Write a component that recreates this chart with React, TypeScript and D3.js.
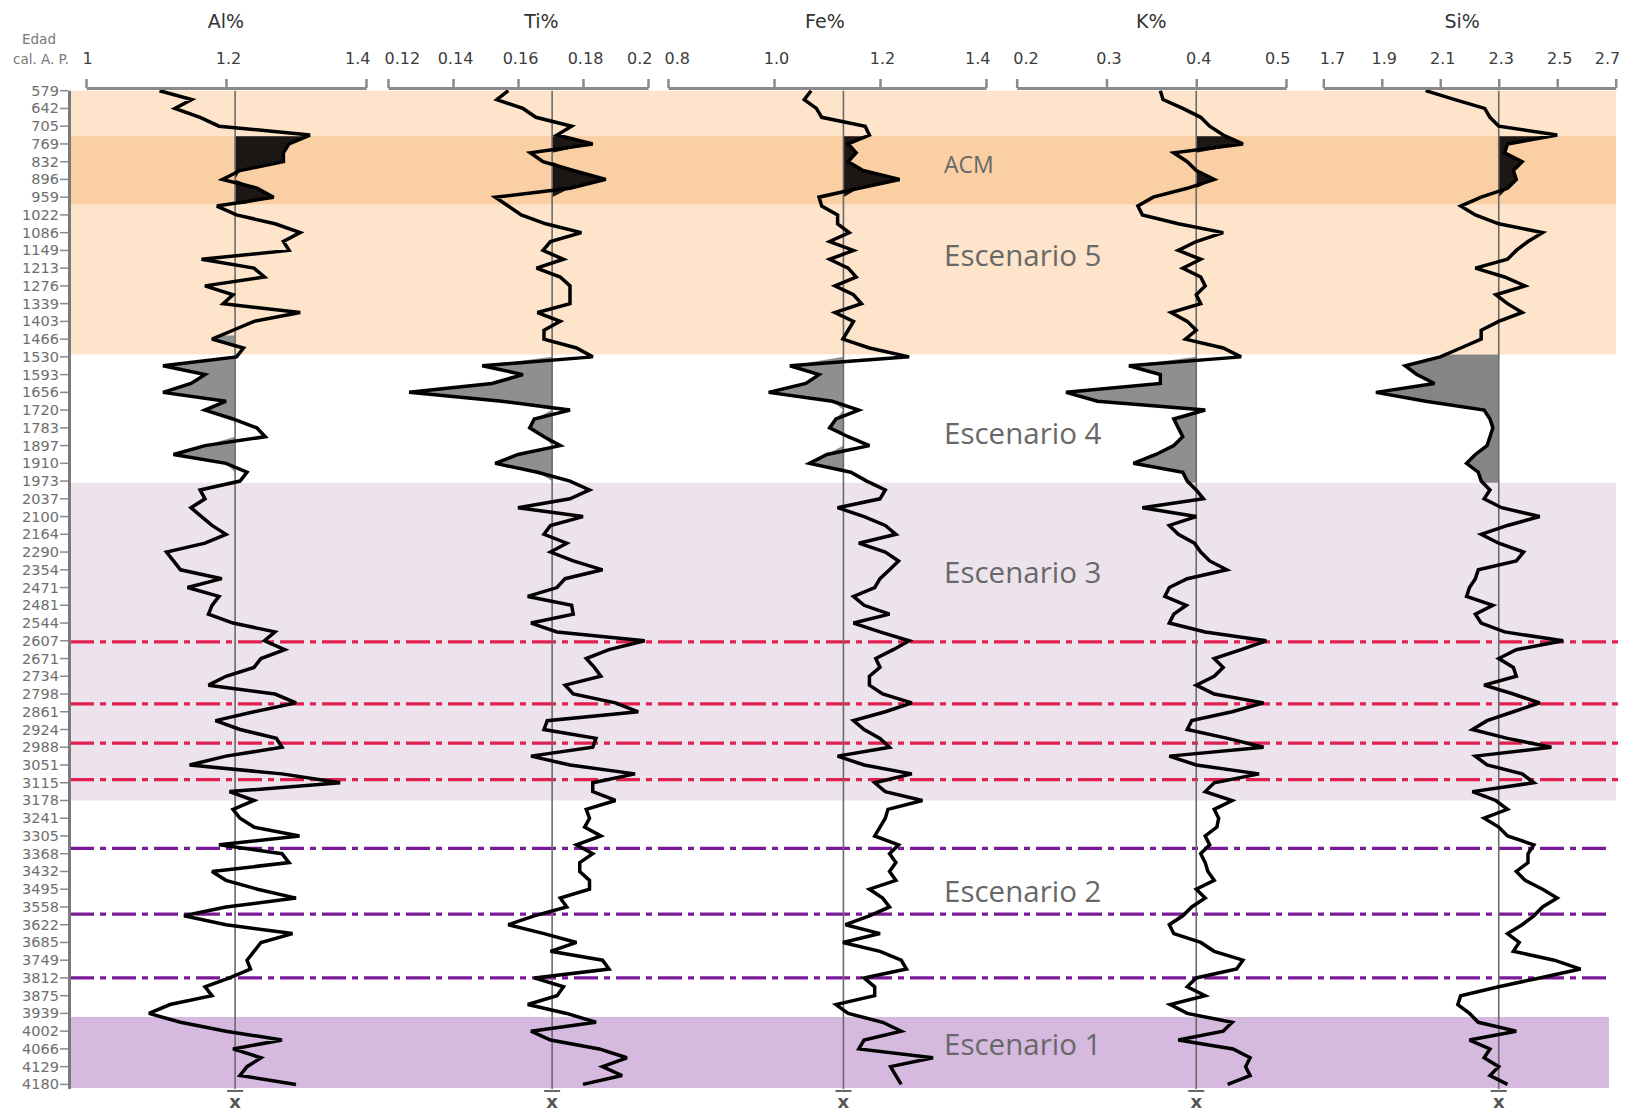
import React, { useRef, useEffect } from "react";
import * as d3 from "d3";

// age labels on the left axis (cal. A. P.), evenly spaced in the figure
const ageLabels = [
  579, 642, 705, 769, 832, 896, 959, 1022, 1086, 1149, 1213, 1276, 1339, 1403, 1466, 1530, 1593, 1656,
  1720, 1783, 1897, 1910, 1973, 2037, 2100, 2164, 2290, 2354, 2471, 2481, 2544, 2607, 2671, 2734, 2798,
  2861, 2924, 2988, 3051, 3115, 3178, 3241, 3305, 3368, 3432, 3495, 3558, 3622, 3685, 3749, 3812, 3875,
  3939, 4002, 4066, 4129, 4180,
];

// series are sampled every half label step down the core
const SAMPLE_STEP = 0.5;

const alValues = [
  1.105, 1.151, 1.127, 1.163, 1.19, 1.32, 1.29, 1.282, 1.282, 1.22, 1.195, 1.245, 1.268, 1.187, 1.215, 1.27,
  1.306, 1.282, 1.29, 1.165, 1.24, 1.255, 1.17, 1.21, 1.196, 1.306, 1.24, 1.21, 1.18, 1.225, 1.215, 1.11,
  1.17, 1.15, 1.11, 1.2, 1.17, 1.21, 1.244, 1.256, 1.17, 1.125, 1.2, 1.23, 1.22, 1.163, 1.17, 1.15, 1.165,
  1.18, 1.2, 1.17, 1.115, 1.125, 1.135, 1.194, 1.145, 1.19, 1.18, 1.175, 1.21, 1.27, 1.255, 1.284, 1.25,
  1.24, 1.2, 1.175, 1.27, 1.3, 1.24, 1.185, 1.22, 1.272, 1.28, 1.2, 1.148, 1.28, 1.363, 1.205, 1.24, 1.21,
  1.22, 1.24, 1.305, 1.19, 1.28, 1.29, 1.18, 1.2, 1.245, 1.3, 1.2, 1.14, 1.2, 1.295, 1.25, 1.24, 1.23,
  1.235, 1.205, 1.17, 1.18, 1.12, 1.09, 1.135, 1.2, 1.28, 1.21, 1.25, 1.23, 1.22, 1.3,
];

const tiValues = [
  0.157, 0.1535, 0.1615, 0.1655, 0.1765, 0.172, 0.183, 0.1638, 0.1677, 0.177, 0.187, 0.176, 0.153, 0.157,
  0.161, 0.1685, 0.1795, 0.17, 0.1677, 0.174, 0.1657, 0.173, 0.176, 0.176, 0.176, 0.166, 0.173, 0.168,
  0.168, 0.178, 0.183, 0.149, 0.1615, 0.152, 0.1265, 0.155, 0.176, 0.165, 0.1636, 0.168, 0.173, 0.16,
  0.153, 0.166, 0.176, 0.182, 0.176, 0.16, 0.18, 0.17, 0.168, 0.175, 0.17, 0.177, 0.186, 0.1745, 0.172,
  0.163, 0.1765, 0.177, 0.164, 0.172, 0.199, 0.188, 0.181, 0.1835, 0.1855, 0.1745, 0.177, 0.19, 0.197,
  0.169, 0.168, 0.184, 0.183, 0.164, 0.176, 0.196, 0.183, 0.183, 0.19, 0.181, 0.182, 0.1805, 0.1855, 0.178,
  0.183, 0.179, 0.179, 0.182, 0.182, 0.173, 0.175, 0.165, 0.157, 0.168, 0.178, 0.17, 0.186, 0.188, 0.165,
  0.174, 0.172, 0.163, 0.175, 0.184, 0.164, 0.17, 0.185, 0.1935, 0.186, 0.192, 0.18,
];

const feValues = [
  1.07, 1.057, 1.08, 1.09, 1.172, 1.18, 1.14, 1.155, 1.14, 1.168, 1.237, 1.16, 1.085, 1.09, 1.12, 1.12,
  1.142, 1.105, 1.15, 1.105, 1.14, 1.155, 1.115, 1.15, 1.165, 1.115, 1.15, 1.14, 1.13, 1.18, 1.255, 1.03,
  1.085, 1.06, 0.99, 1.11, 1.16, 1.117, 1.105, 1.14, 1.18, 1.1, 1.067, 1.145, 1.175, 1.21, 1.2, 1.12, 1.17,
  1.21, 1.23, 1.16, 1.21, 1.235, 1.218, 1.2, 1.19, 1.15, 1.17, 1.218, 1.15, 1.2, 1.255, 1.225, 1.192, 1.2,
  1.18, 1.18, 1.205, 1.26, 1.21, 1.15, 1.17, 1.2, 1.218, 1.12, 1.17, 1.26, 1.19, 1.21, 1.28, 1.215, 1.21,
  1.2, 1.19, 1.235, 1.218, 1.23, 1.218, 1.23, 1.18, 1.205, 1.218, 1.18, 1.135, 1.2, 1.13, 1.2, 1.24, 1.25,
  1.17, 1.19, 1.19, 1.117, 1.14, 1.205, 1.24, 1.17, 1.16, 1.3, 1.22, 1.23, 1.24,
];

const kValues = [
  0.36, 0.363, 0.385, 0.405, 0.415, 0.43, 0.452, 0.375, 0.39, 0.4, 0.42, 0.39, 0.352, 0.335, 0.34, 0.38,
  0.43, 0.4, 0.38, 0.405, 0.385, 0.405, 0.41, 0.4, 0.405, 0.372, 0.39, 0.4, 0.388, 0.43, 0.45, 0.325, 0.36,
  0.36, 0.255, 0.29, 0.41, 0.375, 0.38, 0.385, 0.375, 0.355, 0.33, 0.385, 0.39, 0.4, 0.408, 0.34, 0.4,
  0.37, 0.38, 0.398, 0.405, 0.415, 0.434, 0.39, 0.37, 0.365, 0.389, 0.375, 0.37, 0.41, 0.478, 0.45, 0.42,
  0.43, 0.42, 0.4, 0.42, 0.475, 0.44, 0.395, 0.39, 0.435, 0.475, 0.37, 0.4, 0.47, 0.42, 0.41, 0.44, 0.42,
  0.425, 0.423, 0.41, 0.415, 0.405, 0.41, 0.413, 0.42, 0.4, 0.41, 0.395, 0.385, 0.37, 0.375, 0.405, 0.42,
  0.452, 0.445, 0.4, 0.39, 0.41, 0.371, 0.39, 0.44, 0.43, 0.38, 0.441, 0.46, 0.455, 0.46, 0.435,
];

const siValues = [
  2.05, 2.15, 2.252, 2.27, 2.3, 2.5, 2.33, 2.32, 2.38, 2.35, 2.36, 2.33, 2.24, 2.17, 2.22, 2.3, 2.45, 2.4,
  2.36, 2.33, 2.22, 2.32, 2.39, 2.29, 2.33, 2.38, 2.3, 2.24, 2.24, 2.17, 2.1, 1.98, 2.02, 2.08, 1.88, 2.05,
  2.25, 2.27, 2.28, 2.27, 2.26, 2.22, 2.19, 2.23, 2.24, 2.27, 2.25, 2.31, 2.44, 2.33, 2.24, 2.3, 2.385,
  2.36, 2.23, 2.22, 2.2, 2.19, 2.28, 2.22, 2.24, 2.32, 2.52, 2.36, 2.3, 2.35, 2.36, 2.25, 2.35, 2.44, 2.35,
  2.26, 2.21, 2.33, 2.48, 2.22, 2.26, 2.38, 2.42, 2.21, 2.29, 2.33, 2.25, 2.3, 2.33, 2.42, 2.4, 2.4, 2.36,
  2.39, 2.45, 2.5, 2.45, 2.42, 2.38, 2.33, 2.37, 2.35, 2.49, 2.58, 2.44, 2.3, 2.17, 2.16, 2.2, 2.23, 2.36,
  2.2, 2.27, 2.25, 2.3, 2.27, 2.33,
];

const alTicks = [1, 1.2, 1.4];
const tiTicks = [0.12, 0.14, 0.16, 0.18, 0.2];
const feTicks = [0.8, 1.0, 1.2, 1.4];
const kTicks = [0.2, 0.3, 0.4, 0.5];
const siTicks = [1.7, 1.9, 2.1, 2.3, 2.5, 2.7];
const alTickLabels = ["1", "1.2", "1.4"];
const tiTickLabels = ["0.12", "0.14", "0.16", "0.18", "0.2"];
const feTickLabels = ["0.8", "1.0", "1.2", "1.4"];
const kTickLabels = ["0.2", "0.3", "0.4", "0.5"];
const siTickLabels = ["1.7", "1.9", "2.1", "2.3", "2.5", "2.7"];

// mean (x̄) of each element
const means = [1.213, 0.1705, 1.131, 0.4, 2.3];

// scenario zones, in label steps along the age axis
const bandFrom = [0, 2.56, 22.1, 52.2];
const bandTo = [14.86, 6.4, 40.0, 56.2];
const acmZone = [2.56, 6.4];
const esc4Zone = [14.86, 22.1];
const redCuts = [31.06, 34.55, 36.77, 38.82];
const purpleCuts = [42.7, 46.4, 50.0];
const scenarioNames = ["ACM", "Escenario 5", "Escenario 4", "Escenario 3", "Escenario 2", "Escenario 1"];
const scenarioAt = [4.19, 9.34, 19.34, 27.2, 45.13, 53.8];

const W = 1635;
const H = 1115;

const App = () => {
  const svgRef = useRef(null);

  useEffect(() => {
    const svg = d3.select(svgRef.current).attr("width", W).attr("height", H);
    svg.selectAll("*").remove();

    const y = d3.scaleLinear().domain([0, ageLabels.length - 1]).range([90.7, 1084.4]);
    const axisFont = "DejaVu Sans, sans-serif";

    const panels = [
      { title: "Al%", values: alValues, ticks: alTicks, labels: alTickLabels, range: [86, 366], titleAt: 1.2, grayFrom: 13.8 },
      { title: "Ti%", values: tiValues, ticks: tiTicks, labels: tiTickLabels, range: [388, 648], titleAt: 0.1672, grayFrom: esc4Zone[0] },
      { title: "Fe%", values: feValues, ticks: feTicks, labels: feTickLabels, range: [668, 986], titleAt: 1.096, grayFrom: esc4Zone[0] },
      { title: "K%", values: kValues, ticks: kTicks, labels: kTickLabels, range: [1016.7, 1286], titleAt: 0.35, grayFrom: esc4Zone[0] },
      { title: "Si%", values: siValues, ticks: siTicks, labels: siTickLabels, range: [1323.3, 1615.7], titleAt: 2.175, grayFrom: esc4Zone[0] },
    ];

    // fondos de escenarios
    const bandColors = ["#fde4ca", "#f9cfa3", "#ede3ed", "#d5b9df"];
    const bandRight = [1616, 1616, 1616, 1609];
    bandFrom.forEach((f, i) => {
      svg
        .append("rect")
        .attr("x", 71)
        .attr("y", y(f))
        .attr("width", bandRight[i] - 71)
        .attr("height", y(bandTo[i]) - y(f))
        .attr("fill", bandColors[i]);
    });

    // líneas de corte
    const cut = (t, color, x2) =>
      svg
        .append("line")
        .attr("x1", 70)
        .attr("x2", x2)
        .attr("y1", y(t))
        .attr("y2", y(t))
        .attr("stroke", color)
        .attr("stroke-width", 3.2)
        .attr("stroke-dasharray", "24 6 6 6");
    redCuts.forEach((t) => cut(t, "#e1204f", 1618));
    purpleCuts.forEach((t) => cut(t, "#7b1a98", 1608));

    // etiquetas de escenarios
    scenarioNames.forEach((name, i) => {
      const isAcm = name === "ACM";
      svg
        .append("text")
        .attr("x", 944)
        .attr("y", y(scenarioAt[i]) + (isAcm ? 8 : 10))
        .attr("font-family", "Open Sans, sans-serif")
        .attr("font-size", isAcm ? 23 : 29.5)
        .attr("fill", "#686868")
        .text(name);
    });

    const defs = svg.append("defs");

    panels.forEach((p, pi) => {
      const x = d3.scaleLinear().domain([p.ticks[0], p.ticks[p.ticks.length - 1]]).range(p.range);
      const mean = means[pi];
      const g = svg.append("g");

      // clip zones for the fills
      const clip = (id, from, to) => {
        defs
          .append("clipPath")
          .attr("id", id)
          .append("rect")
          .attr("x", 0)
          .attr("width", W)
          .attr("y", y(from))
          .attr("height", y(to) - y(from));
        return `url(#${id})`;
      };

      const area = d3
        .area()
        .y((d, i) => y(i * SAMPLE_STEP))
        .x0(x(mean));

      g.append("path")
        .datum(p.values)
        .attr("clip-path", clip(`acm-${pi}`, acmZone[0], acmZone[1]))
        .attr("fill", "#1c1614")
        .attr("d", area.x1((d) => x(Math.max(d, mean))));

      g.append("path")
        .datum(p.values)
        .attr("clip-path", clip(`esc4-${pi}`, p.grayFrom, esc4Zone[1]))
        .attr("fill", pi === 4 ? "#858585" : "#8f8f8f")
        .attr("d", area.x1((d) => x(Math.min(d, mean))));

      // línea de la media
      g.append("line")
        .attr("x1", x(mean))
        .attr("x2", x(mean))
        .attr("y1", y(0))
        .attr("y2", 1089)
        .attr("stroke", "#6b6b6b")
        .attr("stroke-width", 1.6);

      const line = d3
        .line()
        .x((d) => x(d))
        .y((d, i) => y(i * SAMPLE_STEP));

      g.append("path")
        .datum(p.values)
        .attr("fill", "none")
        .attr("stroke", "#000")
        .attr("stroke-width", 3.5)
        .attr("stroke-linejoin", "miter")
        .attr("stroke-miterlimit", 3)
        .attr("d", line);

      // x̄
      g.append("line")
        .attr("x1", x(mean) - 8)
        .attr("x2", x(mean) + 8)
        .attr("y1", 1091)
        .attr("y2", 1091)
        .attr("stroke", "#666")
        .attr("stroke-width", 2);
      g.append("text")
        .attr("x", x(mean))
        .attr("y", 1108)
        .attr("text-anchor", "middle")
        .attr("font-family", axisFont)
        .attr("font-weight", "bold")
        .attr("font-size", 18)
        .attr("fill", "#555")
        .text("x");

      // eje superior
      const axis = d3
        .axisTop(x)
        .tickValues(p.ticks)
        .tickFormat((d, i) => p.labels[i])
        .tickSizeInner(9)
        .tickSizeOuter(0)
        .tickPadding(15);
      const ax = svg.append("g").attr("transform", "translate(0,88)").call(axis);
      ax.select(".domain").attr("stroke", "#8a8a8a").attr("stroke-width", 3);
      ax.selectAll(".tick line").attr("stroke", "#8a8a8a").attr("stroke-width", 2.5);
      ax.selectAll(".tick text")
        .attr("font-family", axisFont)
        .attr("font-size", 16)
        .attr("fill", "#3c3c3c")
        .attr("text-anchor", (d, i) => (i === 0 ? "start" : i === p.ticks.length - 1 ? "end" : "middle"))
        .attr("dx", (d, i) => (i === 0 ? -4 : i === p.ticks.length - 1 ? 4 : 2));

      svg
        .append("text")
        .attr("x", x(p.titleAt))
        .attr("y", 28)
        .attr("text-anchor", "middle")
        .attr("font-family", axisFont)
        .attr("font-size", 19)
        .attr("fill", "#333")
        .text(p.title);
    });

    // eje de edades
    svg
      .append("line")
      .attr("x1", 69.5)
      .attr("x2", 69.5)
      .attr("y1", y(0))
      .attr("y2", 1089)
      .attr("stroke", "#7a7a7a")
      .attr("stroke-width", 3);
    const left = svg.append("g");
    ageLabels.forEach((a, i) => {
      left
        .append("line")
        .attr("x1", 60)
        .attr("x2", 68)
        .attr("y1", y(i))
        .attr("y2", y(i))
        .attr("stroke", "#8a8a8a")
        .attr("stroke-width", 1.5);
      left
        .append("text")
        .attr("x", 59)
        .attr("y", y(i) + 5)
        .attr("text-anchor", "end")
        .attr("font-family", axisFont)
        .attr("font-size", 14.5)
        .attr("fill", "#6e6e6e")
        .text(a);
    });

    svg
      .append("text")
      .attr("x", 39)
      .attr("y", 44)
      .attr("text-anchor", "middle")
      .attr("font-family", axisFont)
      .attr("font-size", 13.5)
      .attr("fill", "#777")
      .text("Edad");
    svg
      .append("text")
      .attr("x", 13)
      .attr("y", 64)
      .attr("font-family", axisFont)
      .attr("font-size", 13.5)
      .attr("fill", "#777")
      .text("cal. A. P.");
  }, []);

  return (
    <svg
      ref={svgRef}
      style={{ position: "absolute", left: 0, top: 0, background: "#fff" }}
    />
  );
};

export default App;
